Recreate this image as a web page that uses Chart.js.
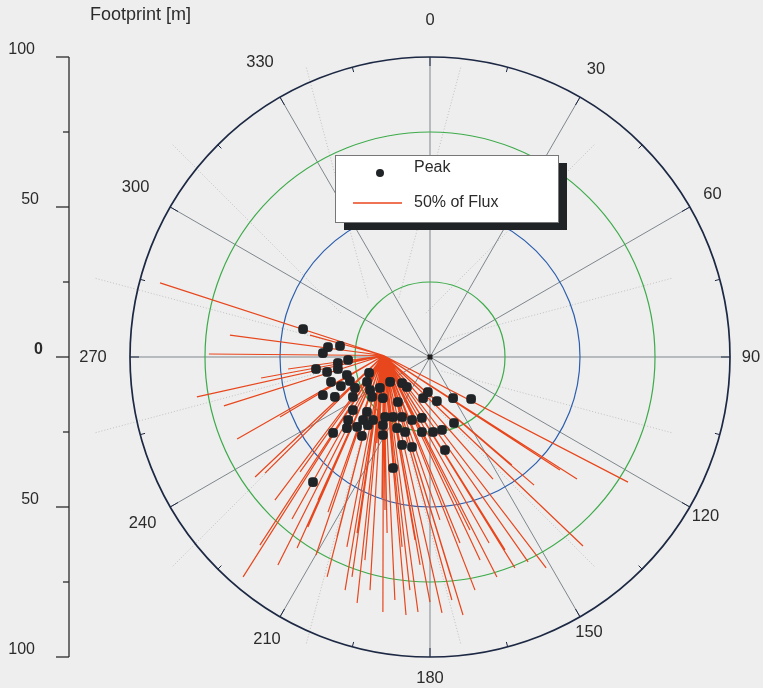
<!DOCTYPE html>
<html lang="en">
<head>
<meta charset="UTF-8">
<title>Footprint</title>
<script src="https://cdn.jsdelivr.net/npm/chart.js"></script>
<style>
  html, body { margin: 0; padding: 0; background: #eeeeee; }
  #wrap { width: 763px; height: 688px; }
</style>
</head>
<body>
<div id="wrap"><canvas id="footprint" width="763" height="688"></canvas></div>
<script>
// peak positions, metres east (x) / north (y) of the tower
const peakX = [-42.3, -35.7, -34.0, -30.0, -27.3, -30.7, -38.0, -34.3, -30.7, -27.7,
               -33.0, -29.7, -26.7, -20.3, -21.0, -35.7, -31.7, -25.0, -25.7, -20.0,
               -16.7, -13.3, -9.3, -7.7, -19.3, -15.7, -10.7, -0.7, -2.3, 2.3,
               7.7, 13.7, -25.7, -21.0, -27.3, -22.3, -19.0, -15.0, -12.3, -9.3,
               -6.0, -2.7, -27.7, -24.3, -20.7, -15.7, -11.0, -8.3, -2.7, 1.0,
               4.0, 8.0, -32.3, -22.7, -15.7, -9.3, -6.0, 5.0, -12.3, -39.0];
const peakY = [9.3, 1.3, 3.3, 3.7, -1.0, -2.0, -4.0, -5.0, -4.0, -6.0,
               -8.3, -9.7, -8.0, -5.3, -8.3, -12.7, -13.3, -10.3, -13.3, -11.0,
               -10.3, -8.3, -8.7, -10.0, -13.3, -13.7, -15.0, -11.7, -13.7, -14.7,
               -13.7, -14.0, -17.7, -18.3, -21.0, -21.0, -21.0, -20.0, -20.0, -20.0,
               -21.0, -20.3, -23.7, -23.3, -22.7, -22.7, -23.7, -25.0, -25.0, -25.0,
               -24.3, -22.0, -25.3, -26.3, -26.0, -29.3, -30.0, -31.0, -37.0, -41.7];

// 50% of flux: line from the source point to these end points
const fluxSource = [-15.5, 0.5];
const fluxX = [-90.0, -66.7, -73.7, -47.3, -56.3, -77.7, -68.7, -64.3, -58.3, -55.0,
               -50.0, -43.3, -46.0, -50.7, -62.3, -44.3, -40.7, -34.0, -31.0, -27.7,
               -24.3, -34.3, -16.0, -15.0, -17.7, -28.3, -24.3, -15.7, -11.7, -6.7,
               0.0, 4.0, 11.0, -14.3, -9.3, -3.3, 7.0, 10.0, 19.7, 22.3,
               28.3, 32.7, 38.7, 51.0, 21.0, 27.3, 34.7, 49.0, 66.0, -40.0,
               -20.0, -26.0, -4.0, 7.3, 15.0, 16.7, 25.0, 13.3, 3.3, -5.0,
               -21.7, -37.3, -51.7, -56.7, 43.3, -38.0, -8.0];
const fluxY = [24.7, 7.3, 1.0, -4.0, -7.0, -13.3, -16.3, -27.3, -40.0, -38.7,
               -20.0, -38.3, -54.0, -69.3, -73.3, -63.7, -56.7, -51.7, -60.0, -63.3,
               -58.7, -73.3, -47.0, -51.0, -28.7, -77.7, -82.0, -85.0, -81.0, -77.7,
               -81.7, -85.3, -86.0, -58.7, -63.3, -69.3, -73.3, -62.0, -62.0, -73.3,
               -70.3, -68.3, -70.3, -63.0, -40.7, -36.0, -42.7, -40.7, -41.7, 7.3,
               -77.7, -73.3, -85.0, -81.0, -77.7, -67.7, -64.3, -57.7, -54.3, -61.0,
               -67.7, -47.7, -47.7, -62.7, -37.7, -66.0, -86.0];

const rings = [25, 50, 75, 100];
const ringColors = ['#3dab4a', '#2c5fae', '#3dab4a', '#1d2944'];
const directions = [0, 30, 60, 90, 120, 150, 180, 210, 240, 270, 300, 330];
const axisTicks = [100, 75, 50, 25, 0, -25, -50, -75, -100];

const peakData = peakX.map((x, i) => ({ x: x, y: peakY[i] }));
const fluxData = [];
fluxX.forEach((x, i) => {
    fluxData.push({ x: fluxSource[0], y: fluxSource[1] });
    fluxData.push({ x: x, y: fluxY[i] });
    fluxData.push({ x: x, y: null });
});

function deg(a) { return a * Math.PI / 180; }
const FONT = '"Liberation Sans", Arial, sans-serif';

// polar grid, drawn under the data
const polarGrid = {
    id: 'polarGrid',
    beforeDraw(chart) {
        const ctx = chart.ctx;
        ctx.save();
        ctx.fillStyle = '#eeeeee';
        ctx.fillRect(0, 0, chart.width, chart.height);
        ctx.restore();
    },
    beforeDatasetsDraw(chart) {
        const ctx = chart.ctx;
        const sx = chart.scales.x, sy = chart.scales.y;
        const cx = sx.getPixelForValue(0), cy = sy.getPixelForValue(0);
        const unit = sx.getPixelForValue(1) - cx;
        ctx.save();

        // faint dotted lines from the source at the half directions
        const px = sx.getPixelForValue(fluxSource[0]), py = sy.getPixelForValue(fluxSource[1]);
        ctx.strokeStyle = '#c2c2c2';
        ctx.lineWidth = 1;
        ctx.setLineDash([1, 2]);
        directions.forEach(d => {
            const a = deg(d + 15);
            ctx.beginPath();
            ctx.moveTo(px + Math.sin(a) * 20 * unit, py - Math.cos(a) * 20 * unit);
            ctx.lineTo(px + Math.sin(a) * 100 * unit, py - Math.cos(a) * 100 * unit);
            ctx.stroke();
        });
        ctx.setLineDash([]);

        // spokes
        ctx.strokeStyle = '#7e878d';
        ctx.lineWidth = 1;
        directions.forEach(d => {
            const a = deg(d);
            ctx.beginPath();
            ctx.moveTo(cx, cy);
            ctx.lineTo(cx + Math.sin(a) * 100 * unit, cy - Math.cos(a) * 100 * unit);
            ctx.stroke();
        });

        // rings
        rings.forEach((r, i) => {
            ctx.strokeStyle = ringColors[i];
            ctx.lineWidth = i === 3 ? 1.7 : 1.2;
            ctx.beginPath();
            ctx.arc(cx, cy, r * unit, 0, Math.PI * 2);
            ctx.stroke();
        });

        // ticks on the outer ring
        ctx.strokeStyle = '#1d2944';
        ctx.lineWidth = 1;
        for (let d = 0; d < 360; d += 15) {
            const a = deg(d);
            const r1 = 100 * unit, r2 = r1 - (d % 30 === 0 ? 9 : 5);
            ctx.beginPath();
            ctx.moveTo(cx + Math.sin(a) * r1, cy - Math.cos(a) * r1);
            ctx.lineTo(cx + Math.sin(a) * r2, cy - Math.cos(a) * r2);
            ctx.stroke();
        }
        ctx.restore();
    },
    afterDraw(chart) {
        const ctx = chart.ctx;
        const sx = chart.scales.x, sy = chart.scales.y;
        const cx = sx.getPixelForValue(0), cy = sy.getPixelForValue(0);
        ctx.save();

        // tower
        ctx.fillStyle = '#1e1e1e';
        ctx.fillRect(cx - 2.5, cy - 2.5, 5, 5);

        // direction labels
        ctx.fillStyle = '#2b2b2b';
        ctx.font = '16.5px ' + FONT;
        ctx.textAlign = 'center';
        ctx.textBaseline = 'middle';
        directions.forEach(d => {
            const a = deg(d);
            const r = 329 + 8 * Math.cos(a) - 8 * Math.sin(a);
            ctx.fillText(String(d), cx + Math.sin(a) * r, cy - Math.cos(a) * r);
        });

        // left distance axis
        const ax = 69;
        ctx.strokeStyle = '#2b2b2b';
        ctx.lineWidth = 1.3;
        ctx.beginPath();
        ctx.moveTo(ax, sy.getPixelForValue(100));
        ctx.lineTo(ax, sy.getPixelForValue(-100));
        ctx.stroke();
        ctx.textAlign = 'right';
        axisTicks.forEach(v => {
            const y = sy.getPixelForValue(v);
            const major = v % 50 === 0;
            ctx.beginPath();
            ctx.moveTo(ax - (major ? 13 : 6), y);
            ctx.lineTo(ax, y);
            ctx.stroke();
            if (major) {
                const txt = String(Math.abs(v));
                ctx.font = (v === 0 ? 'bold ' : '') + '16px ' + FONT;
                ctx.fillText(txt, 47 - 4 * txt.length, y - 7);
            }
        });
        ctx.textAlign = 'left';
        ctx.font = '18px ' + FONT;
        ctx.fillText('Footprint [m]', 90, 15);

        // legend with drop shadow
        const lx = 335, ly = 155, lw = 223, lh = 67;
        ctx.fillStyle = '#202326';
        ctx.fillRect(lx + 9, ly + 8, lw, lh);
        ctx.fillStyle = '#ffffff';
        ctx.fillRect(lx, ly, lw, lh);
        ctx.strokeStyle = '#777777';
        ctx.lineWidth = 1;
        ctx.strokeRect(lx + 0.5, ly + 0.5, lw, lh);
        const ds = chart.data.datasets;
        ctx.fillStyle = ds[0].backgroundColor;
        ctx.beginPath();
        ctx.arc(380, 173, 4, 0, Math.PI * 2);
        ctx.fill();
        ctx.strokeStyle = ds[1].borderColor;
        ctx.lineWidth = 1.3;
        ctx.beginPath();
        ctx.moveTo(353, 203);
        ctx.lineTo(402, 203);
        ctx.stroke();
        ctx.fillStyle = '#2b2b2b';
        ctx.font = '16px ' + FONT;
        ctx.fillText(ds[0].label, 414, 168);
        ctx.fillText(ds[1].label, 414, 203);
        ctx.restore();
    }
};

new Chart(document.getElementById('footprint'), {
    type: 'scatter',
    data: {
        datasets: [
            {
                label: 'Peak',
                data: peakData,
                backgroundColor: '#212427',
                borderColor: '#212427',
                pointStyle: 'rectRounded',
                pointRadius: 5,
                order: 0
            },
            {
                label: '50% of Flux',
                data: fluxData,
                showLine: true,
                spanGaps: false,
                borderColor: '#e8461c',
                borderWidth: 1.2,
                pointRadius: 0,
                order: 1
            }
        ]
    },
    options: {
        responsive: false,
        animation: false,
        layout: { padding: { left: 130, right: 33, top: 57, bottom: 31 } },
        scales: {
            x: { display: false, min: -100, max: 100 },
            y: { display: false, min: -100, max: 100 }
        },
        plugins: { legend: { display: false }, tooltip: { enabled: false } }
    },
    plugins: [polarGrid]
});
</script>
</body>
</html>
